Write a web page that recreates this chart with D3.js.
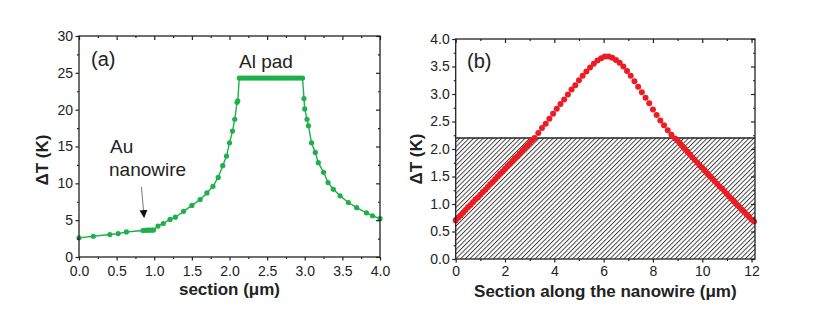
<!DOCTYPE html>
<html><head><meta charset="utf-8">
<script src="https://cdn.jsdelivr.net/npm/d3@7"></script>
<style>
body{margin:0;background:#fff;}
svg text{font-family:Arial,"Liberation Sans",Helvetica,sans-serif;fill:#222;}
</style></head>
<body><svg id="c" width="817" height="313"></svg>
<script>
// ---------- Panel (a) data ----------
const sectionA = [0.0,0.19,0.41,0.52,0.63,0.85,0.88,0.91,0.94,0.97,0.99,1.05,1.12,1.21,1.28,1.39,1.50,1.61,1.70,1.78,1.85,1.91,1.96,2.00,2.04,2.07,2.10,2.11,
  2.13,2.16,2.19,2.22,2.25,2.28,2.31,2.34,2.37,2.40,2.43,2.46,2.49,2.52,2.55,2.58,2.61,2.64,2.67,2.70,2.73,2.76,2.79,2.82,2.85,2.88,2.91,2.94,2.97,
  2.99,3.00,3.03,3.05,3.09,3.14,3.18,3.25,3.31,3.38,3.47,3.58,3.69,3.82,3.90,4.0];
const deltaTA = [2.6,2.82,3.05,3.18,3.4,3.6,3.62,3.64,3.64,3.65,3.66,4.2,4.55,5.1,5.4,6.2,7.0,7.8,8.7,9.6,10.8,12.4,13.7,15.5,17.1,18.7,21.0,21.2,
  24.3,24.3,24.3,24.3,24.3,24.3,24.3,24.3,24.3,24.3,24.3,24.3,24.3,24.3,24.3,24.3,24.3,24.3,24.3,24.3,24.3,24.3,24.3,24.3,24.3,24.3,24.3,24.3,24.3,
  21.5,20.1,18.7,17.8,15.5,14.2,12.8,11.5,10.1,9.2,8.3,7.4,6.7,6.0,5.6,5.2];
const ticksAX = [0,0.5,1,1.5,2,2.5,3,3.5,4];
const ticksAY = [0,5,10,15,20,25,30];

// ---------- Panel (b) data ----------
const sectionB = [0,0.1,0.2,0.3,0.4,0.5,0.6,0.7,0.8,0.9,1.0,1.1,1.2,1.3,1.4,1.5,1.6,1.7,1.8,1.9,2.0,2.1,2.2,2.3,2.4,2.5,2.6,2.7,2.8,2.9,3.0,3.1,3.2,
  3.35,3.5,3.65,3.8,3.95,4.1,4.25,4.4,4.55,4.7,4.85,5.0,5.15,5.3,5.45,5.6,5.75,5.9,6.05,6.2,6.35,6.5,6.65,6.8,6.95,7.1,7.25,7.4,7.55,7.7,7.85,8.0,8.15,8.3,8.45,8.6,8.75,8.9,
  9.0,9.1,9.2,9.3,9.4,9.5,9.6,9.7,9.8,9.9,10.0,10.1,10.2,10.3,10.4,10.5,10.6,10.7,10.8,10.9,11.0,11.1,11.2,11.3,11.4,11.5,11.6,11.7,11.8,11.9,12.0,12.1];
const deltaTB = [0.70,0.75,0.79,0.84,0.89,0.94,0.98,1.03,1.08,1.12,1.17,1.22,1.26,1.31,1.36,1.40,1.45,1.50,1.55,1.59,1.64,1.69,1.73,1.78,1.83,1.87,1.92,1.97,2.02,2.06,2.11,2.16,2.20,
  2.29,2.38,2.46,2.55,2.64,2.73,2.82,2.90,2.99,3.08,3.16,3.25,3.33,3.41,3.48,3.55,3.61,3.65,3.68,3.68,3.66,3.62,3.57,3.50,3.42,3.33,3.23,3.13,3.03,2.93,2.83,2.72,2.62,2.52,2.43,2.34,2.26,2.19,
  2.15,2.10,2.05,2.00,1.95,1.90,1.85,1.80,1.75,1.70,1.66,1.61,1.56,1.51,1.47,1.42,1.37,1.32,1.28,1.23,1.18,1.13,1.09,1.04,0.99,0.95,0.90,0.86,0.81,0.77,0.72,0.68];
const ticksBX = [0,2,4,6,8,10,12];
const ticksBY = [0,0.5,1.0,1.5,2.0,2.5,3.0,3.5,4.0];
const thresholdB = 2.2;

const svg = d3.select("#c");
svg.append("rect").attr("width",817).attr("height",313).attr("fill","#fff");

const defs = svg.append("defs");
const pat = defs.append("pattern").attr("id","hatch").attr("patternUnits","userSpaceOnUse")
  .attr("width",3.3).attr("height",3.3).attr("patternTransform","rotate(45)");
pat.append("line").attr("x1",0.5).attr("y1",0).attr("x2",0.5).attr("y2",3.3)
  .attr("stroke","#333").attr("stroke-width",0.9);
const arrowM = defs.append("marker").attr("id","arr").attr("viewBox","0 0 10 10")
  .attr("refX",9).attr("refY",5).attr("markerWidth",8).attr("markerHeight",9)
  .attr("markerUnits","userSpaceOnUse").attr("orient","auto");
arrowM.append("path").attr("d","M0,0 L10,5 L0,10 Z").attr("fill","#111");

function frame(g, x, y, opts){
  const [x0,x1] = x.range(), [y0,y1] = y.range();
  const minor = (ax, vals, size) => ax.tickValues(vals).tickSize(size).tickFormat("");
  g.append("g").attr("transform",`translate(0,${y0})`)
    .call(d3.axisBottom(x).tickValues(opts.tx).tickSize(3.5).tickPadding(opts.padX).tickFormat(opts.fmtX));
  g.append("g").attr("transform",`translate(0,${y0})`).call(minor(d3.axisBottom(x), opts.mx, 2));
  g.append("g").attr("transform",`translate(0,${y1})`).call(d3.axisTop(x).tickValues(opts.tx).tickSize(-4).tickFormat(""));
  g.append("g").attr("transform",`translate(0,${y1})`).call(minor(d3.axisTop(x), opts.mx, -2));
  g.append("g").attr("transform",`translate(${x0},0)`)
    .call(d3.axisLeft(y).tickValues(opts.ty).tickSize(3.5).tickPadding(2.5).tickFormat(opts.fmtY));
  g.append("g").attr("transform",`translate(${x0},0)`).call(minor(d3.axisLeft(y), opts.my, 2));
  g.append("g").attr("transform",`translate(${x1},0)`).call(d3.axisRight(y).tickValues(opts.ty).tickSize(-4).tickFormat(""));
  g.append("g").attr("transform",`translate(${x1},0)`).call(minor(d3.axisRight(y), opts.my, -2));
  g.selectAll(".domain").remove();
  g.selectAll(".tick line").attr("stroke","#222").attr("stroke-width",1.2);
  g.selectAll(".tick text").attr("font-size",14).attr("fill","#222")
    .style("font-family","Arial, 'Liberation Sans', sans-serif");
  g.append("rect").attr("x",x0).attr("y",y1).attr("width",x1-x0).attr("height",y0-y1)
    .attr("fill","none").attr("stroke","#222").attr("stroke-width",1.3);
}

// ---------- Panel (a) ----------
const xa = d3.scaleLinear().domain([0,4]).range([79,380]);
const ya = d3.scaleLinear().domain([0,30]).range([257,36]);
const ga = svg.append("g");
const greenC = "#1db04b";
const ptsA = sectionA.map((s,i)=>[s,deltaTA[i]]);
ga.append("path").datum(ptsA).attr("fill","none").attr("stroke",greenC).attr("stroke-width",1.4)
  .attr("d", d3.line().x(d=>xa(d[0])).y(d=>ya(d[1])));
ga.selectAll("circle").data(ptsA).join("circle")
  .attr("cx",d=>xa(d[0])).attr("cy",d=>ya(d[1])).attr("r",2.6).attr("fill",greenC);
frame(ga, xa, ya, {tx:ticksAX, ty:ticksAY, mx:[0.25,0.75,1.25,1.75,2.25,2.75,3.25,3.75],
  my:[2.5,7.5,12.5,17.5,22.5,27.5], fmtX:d3.format(".1f"), fmtY:d3.format("d"), padX:5.5});
ga.append("text").attr("x",91).attr("y",66).attr("font-size",20).text("(a)");
ga.append("text").attr("x",239).attr("y",68).attr("font-size",19).text("Al pad");
ga.append("text").attr("x",110).attr("y",153).attr("font-size",19).text("Au");
ga.append("text").attr("x",109).attr("y",176).attr("font-size",19).text("nanowire");
ga.append("line").attr("x1",xa(0.83)).attr("y1",ya(9.5)).attr("x2",xa(0.865)).attr("y2",ya(5.4))
  .attr("stroke","#777").attr("stroke-width",1).attr("marker-end","url(#arr)");
ga.append("text").attr("x",(79+380)/2).attr("y",295).attr("text-anchor","middle")
  .attr("font-size",17).attr("font-weight","bold").text("section (\u03bcm)");
ga.append("text").attr("transform","translate(48,160) rotate(-90)").attr("text-anchor","middle")
  .attr("font-size",17).attr("font-weight","bold").text("\u0394T (K)");

// ---------- Panel (b) ----------
const xb = d3.scaleLinear().domain([0,12.14]).range([455.7,755]);
const yb = d3.scaleLinear().domain([0,4]).range([259,39]);
const gb = svg.append("g");
gb.append("rect").attr("x",xb(0)).attr("y",yb(thresholdB)).attr("width",xb(12.14)-xb(0))
  .attr("height",yb(0)-yb(thresholdB)).attr("fill","url(#hatch)");
gb.append("line").attr("x1",xb(0)).attr("x2",xb(12.14)).attr("y1",yb(thresholdB)).attr("y2",yb(thresholdB))
  .attr("stroke","#222").attr("stroke-width",1.3);
const ptsB = sectionB.map((s,i)=>[s,deltaTB[i]]);
gb.selectAll("circle").data(ptsB).join("circle")
  .attr("cx",d=>xb(d[0])).attr("cy",d=>yb(d[1])).attr("r",3).attr("fill","#ec1c24");
frame(gb, xb, yb, {tx:ticksBX, ty:ticksBY, mx:[1,3,5,7,9,11],
  my:[0.25,0.75,1.25,1.75,2.25,2.75,3.25,3.75], fmtX:d3.format("d"), fmtY:d3.format(".1f"), padX:3.5});
gb.append("text").attr("x",467).attr("y",68).attr("font-size",20).text("(b)");
gb.append("text").attr("x",(455.7+755)/2).attr("y",297).attr("text-anchor","middle")
  .attr("font-size",17).attr("font-weight","bold").text("Section along the nanowire (\u03bcm)");
gb.append("text").attr("transform","translate(422,159) rotate(-90)").attr("text-anchor","middle")
  .attr("font-size",17).attr("font-weight","bold").text("\u0394T (K)");
</script></body></html>
